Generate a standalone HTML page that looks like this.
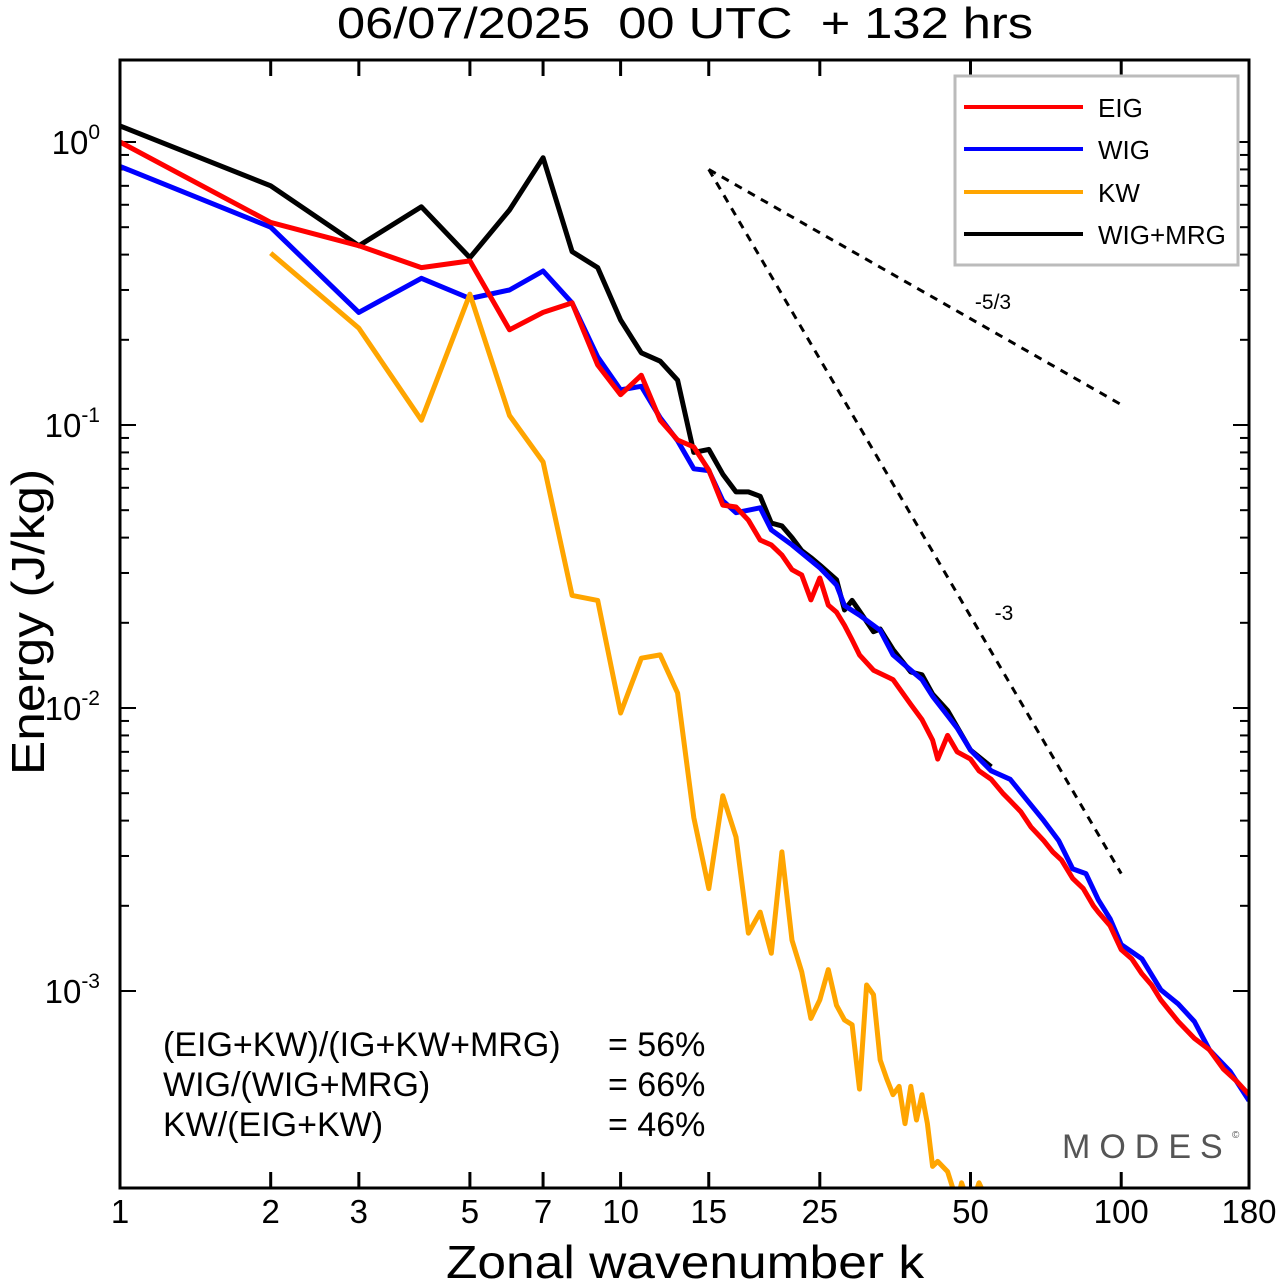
<!DOCTYPE html>
<html><head><meta charset="utf-8">
<style>
html,body{margin:0;padding:0;background:#fff;}
svg{display:block;font-family:"Liberation Sans",sans-serif;}
</style></head>
<body>
<svg id="chart" width="1280" height="1281" viewBox="0 0 1280 1281">
<defs><clipPath id="plotclip"><rect x="120" y="60" width="1129" height="1128"/></clipPath></defs>
<text transform="translate(685,38) scale(1.15,1)" font-size="44" text-anchor="middle" xml:space="preserve">06/07/2025  00 UTC  + 132 hrs</text>
<g id="axes"></g>
<g id="series" clip-path="url(#plotclip)"></g>
<rect x="120" y="60" width="1129" height="1128" fill="none" stroke="#000" stroke-width="3"/>
<text transform="translate(685,1278) scale(1.12,1)" font-size="46" text-anchor="middle">Zonal wavenumber k</text>
<text transform="translate(44,622) rotate(-90) scale(1.12,1)" font-size="46" text-anchor="middle">Energy (J/kg)</text>
<g>
<rect x="955" y="76" width="283" height="189" fill="#fff" stroke="#bbb" stroke-width="3"/>
<g><line x1="964" y1="107" x2="1083" y2="107" stroke="#f00" stroke-width="4"/><text x="1098" y="117" font-size="26">EIG</text></g>
<g><line x1="964" y1="149" x2="1083" y2="149" stroke="#00f" stroke-width="4"/><text x="1098" y="159" font-size="26">WIG</text></g>
<g><line x1="964" y1="192" x2="1083" y2="192" stroke="#ffa500" stroke-width="4"/><text x="1098" y="202" font-size="26">KW</text></g>
<g><line x1="964" y1="234" x2="1083" y2="234" stroke="#000" stroke-width="4"/><text x="1098" y="244" font-size="26">WIG+MRG</text></g>
</g>
<g font-size="34">
<text x="163" y="1056">(EIG+KW)/(IG+KW+MRG)</text><text x="608" y="1056">= 56%</text>
<text x="163" y="1096">WIG/(WIG+MRG)</text><text x="608" y="1096">= 66%</text>
<text x="163" y="1136">KW/(EIG+KW)</text><text x="608" y="1136">= 46%</text>
</g>
<text x="1062" y="1158" font-size="34" fill="#555" letter-spacing="9">MODES</text>
<text x="1232" y="1138" font-size="10" fill="#555">©</text>
<text x="993" y="309" font-size="21" text-anchor="middle">-5/3</text>
<text x="1004" y="620" font-size="21" text-anchor="middle">-3</text>
</svg>
<script>
const xTicks = [1,2,3,5,7,10,15,25,50,100,180];
const yDecades = [-3,-2,-1,0];
const eigK = [1,2,3,4,5,6,7,8,9,10,11,12,13,14,15,16,17,18,19,20,21,22,23,24,25,26,27,28,29,30,32,35,38,40,42,43,45,47,50,52,55,58,60,63,66,70,73,76,80,84,88,90,95,100,105,110,115,120,125,130,140,150,160,170,180];
const eigE = [1.0,0.52,0.43,0.36,0.38,0.217,0.25,0.27,0.163,0.128,0.15,0.104,0.0885,0.0836,0.0693,0.0521,0.0513,0.0461,0.0392,0.0377,0.0347,0.0308,0.0295,0.0241,0.0288,0.0231,0.0218,0.0196,0.0174,0.0154,0.0136,0.0126,0.0103,0.0091,0.0077,0.0066,0.0080,0.0070,0.0066,0.0060,0.0056,0.0050,0.0047,0.0043,0.0038,0.0034,0.0031,0.0029,0.0025,0.0023,0.0020,0.0019,0.0017,0.0014,0.0013,0.00115,0.00105,0.00093,0.00085,0.00078,0.00068,0.00062,0.00053,0.00048,0.00043];
const wigK = [1,2,3,4,5,6,7,8,9,10,11,12,13,14,15,16,17,18,19,20,22,25,27,28,30,33,35,38,40,42,45,47,50,55,60,65,70,75,80,85,90,95,100,110,120,130,140,150,165,180];
const wigE = [0.82,0.5,0.25,0.33,0.28,0.30,0.35,0.27,0.174,0.133,0.137,0.106,0.088,0.07,0.069,0.054,0.049,0.050,0.051,0.0426,0.0377,0.0313,0.0272,0.023,0.0213,0.0188,0.0154,0.0136,0.0126,0.0110,0.0094,0.0085,0.0071,0.0060,0.0056,0.0047,0.0040,0.0034,0.0027,0.0026,0.0021,0.0018,0.00146,0.0013,0.00101,0.00090,0.00078,0.00062,0.00052,0.00041];
const mrgK = [1,2,3,4,5,6,7,8,9,10,11,12,13,14,15,16,17,18,19,20,21,22,23,24,25,27,28,29,30,32,33,35,38,40,42,45,50,55];
const mrgE = [1.14,0.70,0.43,0.59,0.39,0.575,0.88,0.41,0.36,0.235,0.18,0.168,0.144,0.08,0.082,0.067,0.058,0.058,0.056,0.045,0.044,0.040,0.036,0.034,0.032,0.0284,0.0222,0.024,0.022,0.0186,0.019,0.0161,0.0134,0.0131,0.0112,0.0098,0.0071,0.0062];
const kwK = [2,3,4,5,6,7,8,9,10,11,12,13,14,15,16,17,18,19,20,21,22,23,24,25,26,27,28,29,30,31,32,33,34,35,36,37,38,39,40,41,42,43,45,47,48,50,52,55];
const kwE = [0.405,0.22,0.104,0.29,0.108,0.074,0.025,0.024,0.0096,0.015,0.0154,0.0113,0.0041,0.0023,0.0049,0.0035,0.0016,0.0019,0.00136,0.0031,0.00151,0.00117,0.0008,0.00093,0.00119,0.00089,0.00079,0.00076,0.00045,0.00105,0.00097,0.00057,0.00049,0.00043,0.00046,0.00034,0.00046,0.00035,0.00043,0.00034,0.00024,0.00025,0.00023,0.00018,0.00021,0.00017,0.00021,0.00017];
const refStartK = [15, 15];
const refStartE = [0.8, 0.8];
const refEndK = [100, 100];
const refEndE = [0.118, 0.0026];

const NS = "http://www.w3.org/2000/svg";
const X0 = 120, XPD = 1129/Math.log10(180);
const Y0 = 142, YPD = 283;
function xs(k){ return X0 + Math.log10(k)*XPD; }
function ys(e){ return Y0 - Math.log10(e)*YPD; }
function mk(tag, attrs, parent){ const el=document.createElementNS(NS,tag); for(const a in attrs) el.setAttribute(a,attrs[a]); parent.appendChild(el); return el; }

const axes = document.getElementById('axes');
xTicks.forEach(k=>{
  const x = xs(k);
  const t1 = mk('line',{x1:x,y1:1188,x2:x,y2:1172,stroke:'#000','stroke-width':3},axes);
  
  
  const t2 = mk('line',{x1:x,y1:60,x2:x,y2:76,stroke:'#000','stroke-width':3},axes);
  
  
  const lb = mk('text',{x:x,y:1223,'font-size':33,'text-anchor':'middle'},axes);
  lb.textContent = k;
  
  
});
yDecades.forEach(d=>{
  for(let m=1;m<10;m++){
    const e = m*Math.pow(10,d);
    const y = ys(e);
    if(y<60||y>1188) continue;
    const len = m===1?16:9;
    const a = mk('line',{x1:120,y1:y,x2:120+len,y2:y,stroke:'#000','stroke-width':2},axes);
    
    
    const b = mk('line',{x1:1249,y1:y,x2:1249-len,y2:y,stroke:'#000','stroke-width':2},axes);
    
    
  }
  const y = ys(Math.pow(10,d));
  const t = mk('text',{x:100,y:y+12,'font-size':33,'text-anchor':'end'},axes);
  
  
  t.textContent = '10';
  const sp = mk('tspan',{dy:-15,'font-size':21},t);
  sp.textContent = String(d);
});

const series = document.getElementById('series');
function line(ks, es, color, name){
  const pts = ks.map((k,i)=>xs(k).toFixed(1)+','+ys(es[i]).toFixed(1)).join(' ');
  const p = mk('polyline',{points:pts,fill:'none',stroke:color,'stroke-width':5,'stroke-linejoin':'round'},series);
  
  
}
refStartK.forEach((k,i)=>{
  const l = mk('line',{x1:xs(k),y1:ys(refStartE[i]),x2:xs(refEndK[i]),y2:ys(refEndE[i]),stroke:'#000','stroke-width':3,'stroke-dasharray':'8,7'},series);
  
  
});
line(mrgK, mrgE, '#000', 'wig-mrg-line');
line(wigK, wigE, '#00f', 'wig-line');
line(eigK, eigE, '#f00', 'eig-line');
line(kwK, kwE, '#ffa500', 'kw-line');
</script>
</body></html>
